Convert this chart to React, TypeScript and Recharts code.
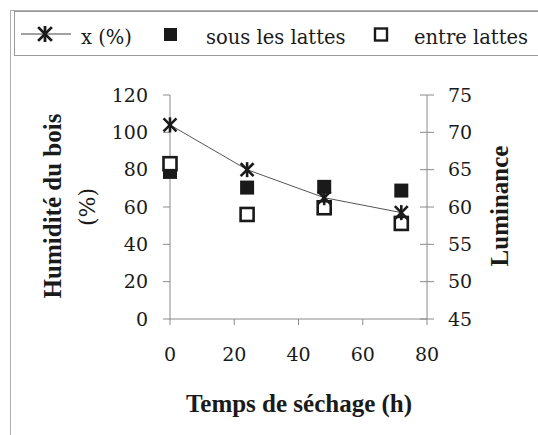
import { ComposedChart, Line, Scatter, XAxis, YAxis, Legend } from 'recharts';

const hours = [0, 24, 48, 72];
const humidite = [104, 80, 65, 57];
const sousLattes = [64.7, 62.6, 62.7, 62.2];
const entreLattes = [65.8, 59.0, 59.9, 57.8];

const xTicks = [0, 20, 40, 60, 80];
const leftTicks = [0, 20, 40, 60, 80, 100, 120];
const rightTicks = [45, 50, 55, 60, 65, 70, 75];

const data = hours.map((h, i) => ({
  h,
  hum: humidite[i],
  sous: sousLattes[i],
  entre: entreLattes[i],
}));

// the regular Times-like face is missing here, DejaVu Serif stands in (smaller, it runs wider)
const BOLD_FONT = 'Liberation Serif';
const REG_FONT = 'DejaVu Serif';
const AXIS = '#8a8a8a';
const INK = '#1a1a1a';

function Star({ cx, cy, r = 7.5, w = 2.6 }: { cx: number; cy: number; r?: number; w?: number }) {
  const d = r * 0.86;
  return (
    <g stroke={INK} strokeWidth={w}>
      <line x1={cx - d} y1={cy - d} x2={cx + d} y2={cy + d} />
      <line x1={cx - d} y1={cy + d} x2={cx + d} y2={cy - d} />
      <line x1={cx} y1={cy - r} x2={cx} y2={cy + r} />
    </g>
  );
}

const starDot = (p: any) => <Star key={`s-${p.index}`} cx={p.cx} cy={p.cy} />;

const filledSquare = (p: any) => (
  <rect x={p.cx - 7} y={p.cy - 7} width={14} height={14} fill={INK} />
);

const openSquare = (p: any) => (
  <rect x={p.cx - 6.5} y={p.cy - 6.5} width={13} height={13} fill="#fff" stroke={INK} strokeWidth={2.6} />
);

const LeftTick = (p: any) => (
  <text x={p.x} y={p.y} dy="0.35em" textAnchor="end" style={{ fontFamily: REG_FONT }} fontSize={19} fill={INK}>
    {p.payload.value}
  </text>
);

const BottomTick = (p: any) => (
  <text x={p.x} y={p.y} dy="0.71em" textAnchor="middle" style={{ fontFamily: REG_FONT }} fontSize={19} fill={INK}>
    {p.payload.value}
  </text>
);

const RightTick = (p: any) => {
  const ax = p.x - 7 - 14;
  return (
    <g>
      <line x1={ax - 7} x2={ax} y1={p.y} y2={p.y} stroke={AXIS} />
      <text x={p.x} y={p.y} dy="0.35em" textAnchor="start" style={{ fontFamily: REG_FONT }} fontSize={19} fill={INK}>
        {p.payload.value}
      </text>
    </g>
  );
};

const LegendBox = () => {
  const t = { fontFamily: REG_FONT };
  return (
    <div
      style={{
        position: 'relative',
        width: 530,
        height: 45,
        boxSizing: 'border-box',
        border: '1px solid #9a9a9a',
        borderRight: 'none',
      }}
    >
      <svg width={530} height={45} style={{ position: 'absolute', left: 0, top: 0 }}>
        <line x1={6} x2={56} y1={22} y2={22} stroke="#444" strokeWidth={1} />
        <Star cx={30} cy={22} r={8} w={2.8} />
        <text x={66} y={32} style={t} fontSize={19.5} fill={INK}>x (%)</text>
        <rect x={149} y={16} width={13} height={13} fill={INK} />
        <text x={191} y={32} style={t} fontSize={19.5} fill={INK}>sous les lattes</text>
        <rect x={360} y={16.5} width={12} height={12} fill="#fff" stroke={INK} strokeWidth={2.4} />
        <text x={399} y={32} style={t} fontSize={19.5} fill={INK}>entre lattes</text>
      </svg>
    </div>
  );
};

const LeftLabel = () => (
  <g fill={INK}>
    <text x={52} y={206} transform="rotate(-90, 52, 206)" textAnchor="middle" dominantBaseline="central" style={{ fontFamily: BOLD_FONT }} fontSize={25} fontWeight="bold">
      Humidité du bois
    </text>
    <text x={87} y={207} transform="rotate(-90, 87, 207)" textAnchor="middle" dominantBaseline="central" style={{ fontFamily: REG_FONT }} fontSize={22}>
      (%)
    </text>
  </g>
);

const RightLabel = () => (
  <text x={499} y={206} transform="rotate(-90, 499, 206)" textAnchor="middle" dominantBaseline="central" style={{ fontFamily: BOLD_FONT }} fontSize={25} fontWeight="bold" fill={INK}>
    Luminance
  </text>
);

const BottomLabel = () => (
  <text x={299} y={403} textAnchor="middle" dominantBaseline="central" style={{ fontFamily: BOLD_FONT }} fontSize={25} fontWeight="bold" fill={INK}>
    Temps de séchage (h)
  </text>
);

export default function App() {
  return (
    <div style={{ position: 'absolute', left: 0, top: 0, width: 538, height: 435, background: '#fff', overflow: 'hidden' }}>
      <div style={{ position: 'absolute', left: 10, top: 10, width: 600, height: 500, borderLeft: '1px solid #b0b0b0', borderTop: '1px solid #b0b0b0' }} />
      <ComposedChart width={538} height={435} data={data} margin={{ top: 95, right: 0, bottom: 0, left: 0 }}>
        <XAxis
          dataKey="h"
          type="number"
          domain={[0, 80]}
          ticks={xTicks}
          height={116}
          tickSize={6}
          tickMargin={23}
          stroke={AXIS}
          tick={<BottomTick />}
          label={<BottomLabel />}
        />
        <YAxis
          yAxisId="left"
          domain={[0, 120]}
          ticks={leftTicks}
          width={170}
          tickSize={7}
          tickMargin={15}
          stroke={AXIS}
          tick={<LeftTick />}
          label={<LeftLabel />}
        />
        <YAxis
          yAxisId="right"
          orientation="right"
          domain={[45, 75]}
          ticks={rightTicks}
          width={111}
          tickSize={7}
          tickMargin={14}
          stroke={AXIS}
          tick={<RightTick />}
          label={<RightLabel />}
        />
        <Legend
          layout="horizontal"
          verticalAlign="middle"
          wrapperStyle={{ top: 11, left: 14, width: 530 }}
          content={<LegendBox />}
        />
        <Line
          yAxisId="left"
          dataKey="hum"
          name="x (%)"
          stroke="#555"
          strokeWidth={1}
          dot={starDot}
          isAnimationActive={false}
        />
        <Scatter yAxisId="right" dataKey="sous" name="sous les lattes" shape={filledSquare} isAnimationActive={false} />
        <Scatter yAxisId="right" dataKey="entre" name="entre lattes" shape={openSquare} isAnimationActive={false} />
      </ComposedChart>
    </div>
  );
}
